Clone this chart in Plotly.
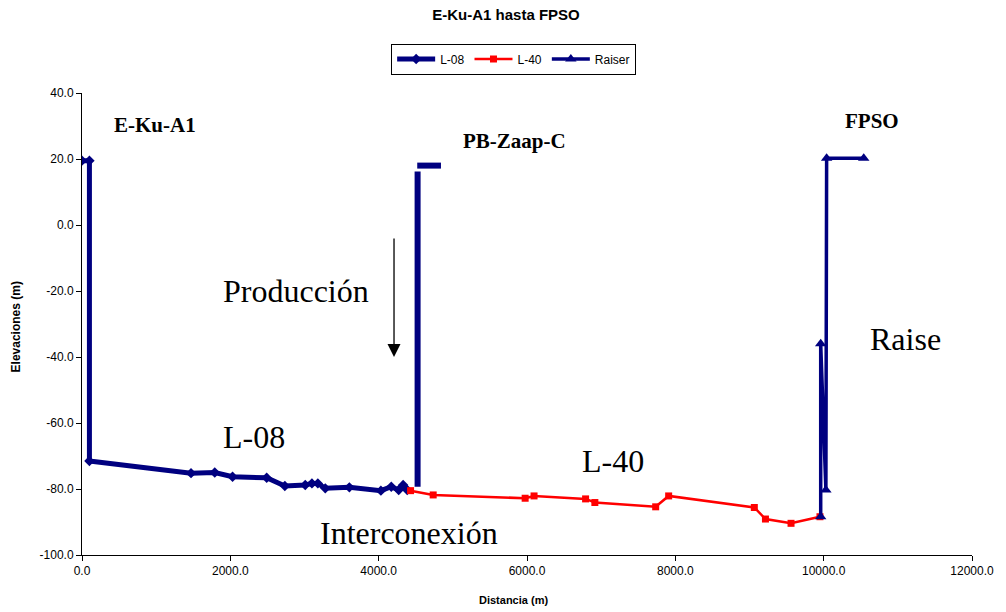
import plotly.graph_objects as go

# Pipeline profile: distance along route (m) vs elevation (m)
l08_x = [0, 100, 100, 1470, 1790, 2030, 2490, 2735, 3010, 3100, 3180, 3280,
         3605, 4030, 4170, 4270, 4330, 4385]
l08_y = [19.5, 19.5, -71.5, -75.2, -75.0, -76.3, -76.6, -79.1, -78.8, -78.3,
         -78.3, -79.8, -79.5, -80.5, -79.3, -80.3, -78.8, -80.3]

l40_x = [4430, 4735, 5975, 6095, 6790, 6915, 7735, 7910, 9065, 9215, 9560, 9950]
l40_y = [-80.5, -81.8, -82.8, -82.1, -83.0, -84.1, -85.4, -82.1, -85.6, -89.1,
         -90.4, -88.4]

raiser_x = [9960, 9960, 10030, 10040, 10540]
raiser_y = [-88.4, -36.0, -80.3, 20.2, 20.2]

# Platform riser at PB-Zaap-C (vertical leg and deck segment)
zaap_x = [4525, 4525, None, 4520, 4840]
zaap_y = [16.2, -79.3, None, 18.0, 18.0]

x_ticks = [0, 2000, 4000, 6000, 8000, 10000, 12000]
y_ticks = [40, 20, 0, -20, -40, -60, -80, -100]
x_tick_text = ["%.1f" % v for v in x_ticks]
y_tick_text = ["%.1f" % v for v in y_ticks]

NAVY = "#000080"
RED = "#FF0000"
SANS = "Liberation Sans, Arial, sans-serif"
SERIF = "Liberation Serif, Times New Roman, serif"

fig = go.Figure()
fig.add_trace(go.Scatter(
    x=l08_x, y=l08_y, name="L-08", mode="lines+markers",
    line=dict(color=NAVY, width=5),
    marker=dict(symbol="diamond", size=8, color=NAVY)))
fig.add_trace(go.Scatter(
    x=l40_x, y=l40_y, name="L-40", mode="lines+markers",
    line=dict(color=RED, width=2.5),
    marker=dict(symbol="square", size=7, color=RED)))
fig.add_trace(go.Scatter(
    x=raiser_x, y=raiser_y, name="Raiser", mode="lines+markers",
    line=dict(color=NAVY, width=3.5),
    marker=dict(symbol="triangle-up", size=10, color=NAVY)))
fig.add_trace(go.Scatter(
    x=zaap_x, y=zaap_y, mode="lines", showlegend=False, hoverinfo="skip",
    line=dict(color=NAVY, width=6)))

labels = [
    ("E-Ku-A1", 406, 30.3, 21, True),
    ("PB-Zaap-C", 5104, 25.5, 21, True),
    ("FPSO", 10258, 31.5, 21, True),
    ("Producción", 1878, -20.0, 32, False),
    ("L-08", 1878, -64.2, 32, False),
    ("L-40", 6711, -71.5, 32, False),
    ("Interconexión", 3177, -93.3, 32, False),
    ("Raise", 10595, -34.5, 32, False),
]
for txt, lx, ly, size, bold in labels:
    fig.add_annotation(
        x=lx, y=ly, xref="x", yref="y", text=f"<b>{txt}</b>" if bold else txt,
        showarrow=False, xanchor="left", yanchor="middle",
        font=dict(family=SERIF, size=size, color="black"))

# Flow direction arrow
fig.add_annotation(
    x=4207, y=-40, ax=4207, ay=-3.6, xref="x", yref="y", axref="x", ayref="y",
    text="", showarrow=True, arrowhead=2, arrowsize=2, arrowwidth=1.3,
    arrowcolor="black")

# Axis titles
fig.add_annotation(
    x=0.4844, y=-0.0974, xref="paper", yref="paper", text="<b>Distancia (m)</b>",
    showarrow=False, xanchor="center", yanchor="middle",
    font=dict(family=SANS, size=11, color="black"))
fig.add_annotation(
    x=-0.0737, y=0.4935, xref="paper", yref="paper", text="<b>Elevaciones (m)</b>",
    showarrow=False, xanchor="center", yanchor="middle", textangle=-90,
    font=dict(family=SANS, size=12, color="black"))

fig.update_layout(
    width=1006, height=612,
    margin=dict(l=82, r=28, t=93, b=57),
    paper_bgcolor="white", plot_bgcolor="white",
    font=dict(family=SANS, size=12, color="black"),
    title=dict(text="<b>E-Ku-A1 hasta FPSO</b>", x=0.503, xanchor="center",
               y=1 - 15 / 612, yanchor="middle",
               font=dict(size=15, color="black")),
    showlegend=True,
    legend=dict(orientation="h", x=0.485, xanchor="center", y=1.107, yanchor="top",
                bordercolor="black", borderwidth=1, bgcolor="white",
                font=dict(size=12), itemwidth=38, tracegroupgap=0),
    xaxis=dict(range=[0, 12000], tickvals=x_ticks, ticktext=x_tick_text,
               showline=True, linecolor="black", linewidth=1,
               ticks="outside", ticklen=5, tickcolor="black", showgrid=False,
               zeroline=False),
    yaxis=dict(range=[-100, 40], tickvals=y_ticks, ticktext=y_tick_text,
               showline=True, linecolor="black", linewidth=1,
               ticks="outside", ticklen=5, tickcolor="black", showgrid=False,
               zeroline=False),
)

fig.write_html("out.html")
